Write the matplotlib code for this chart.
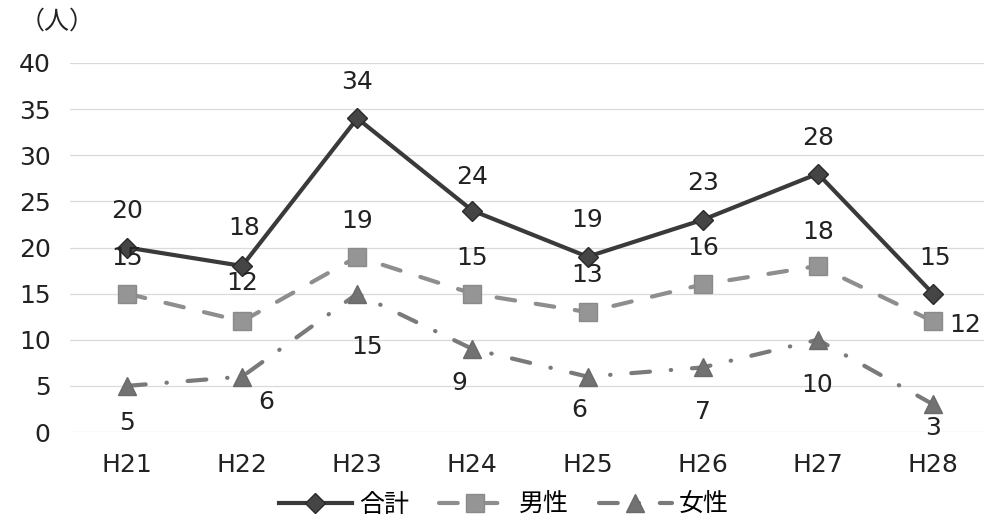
import matplotlib
matplotlib.use("Agg")
import matplotlib.pyplot as plt

plt.rcParams['font.family'] = ['DejaVu Sans', 'Noto Sans CJK JP']

years = ["H21", "H22", "H23", "H24", "H25", "H26", "H27", "H28"]
total = [20, 18, 34, 24, 19, 23, 28, 15]
male = [15, 12, 19, 15, 13, 16, 18, 12]
female = [5, 6, 15, 9, 6, 7, 10, 3]

# label offsets in pixels (dx, dy), one per point
total_off = [(0, 36), (2, 38), (0, 36), (0, 34), (0, 37), (0, 37), (0, 36), (2, 36)]
male_off = [(0, 36), (0, 38), (0, 36), (0, 36), (0, 37), (0, 36), (0, 34), (32, -4)]
female_off = [(0, -37), (24, -25), (10, -53), (-13, -34), (-8, -33), (0, -45), (-1, -45), (0, -24)]

fig = plt.figure(figsize=(9.84, 5.27), dpi=100)
ax = fig.add_axes([70 / 984, 95 / 527, 914 / 984, 369 / 527])

x = list(range(len(years)))

ax.plot(x, total, color="#3a3a3a", lw=3, marker="D", ms=10,
        mfc="#454545", mec="#2a2a2a", label="合計", zorder=5)
ax.plot(x, male, color="#8e8e8e", lw=3, dashes=(4.5, 5), dash_capstyle="round",
        marker="s", ms=13, mfc="#959595", mec="#8a8a8a", label="男性", zorder=4)
ax.plot(x, female, color="#7a7a7a", lw=3, dashes=(4.5, 5, 0.1, 5),
        dash_capstyle="round", marker="^", ms=13, mfc="#727272", mec="#6a6a6a",
        label="女性", zorder=3)

for vals, offs in ((total, total_off), (male, male_off), (female, female_off)):
    for i, v in enumerate(vals):
        ax.annotate(str(v), (i, v), xytext=offs[i], textcoords="offset pixels",
                    ha="center", va="center", fontsize=18, color="#222222",
                    zorder=6)

ax.set_xlim(-0.495, 7.443)
ax.set_ylim(0, 40)
ax.set_yticks(range(0, 41, 5))
ax.set_xticks(x)
ax.set_xticklabels(years)
ax.tick_params(axis="both", length=0, labelsize=18, colors="#222222")
ax.tick_params(axis="y", pad=14)
ax.tick_params(axis="x", pad=15)
ax.grid(axis="y", color="#dadada", lw=0.9)
ax.set_axisbelow(True)
for s in ax.spines.values():
    s.set_visible(False)

fig.text(20 / 984, 1 - 22 / 527, "（人）", fontsize=18, family="Noto Sans CJK JP",
         va="center", ha="left", color="#222222")

fig.legend(loc="center", bbox_to_anchor=(504 / 984, 1 - 505 / 527), ncol=3,
           frameon=False, fontsize=18, handlelength=2.9, handletextpad=0.3,
           columnspacing=1.2)

fig.savefig("out.png", dpi=100, facecolor="white")
